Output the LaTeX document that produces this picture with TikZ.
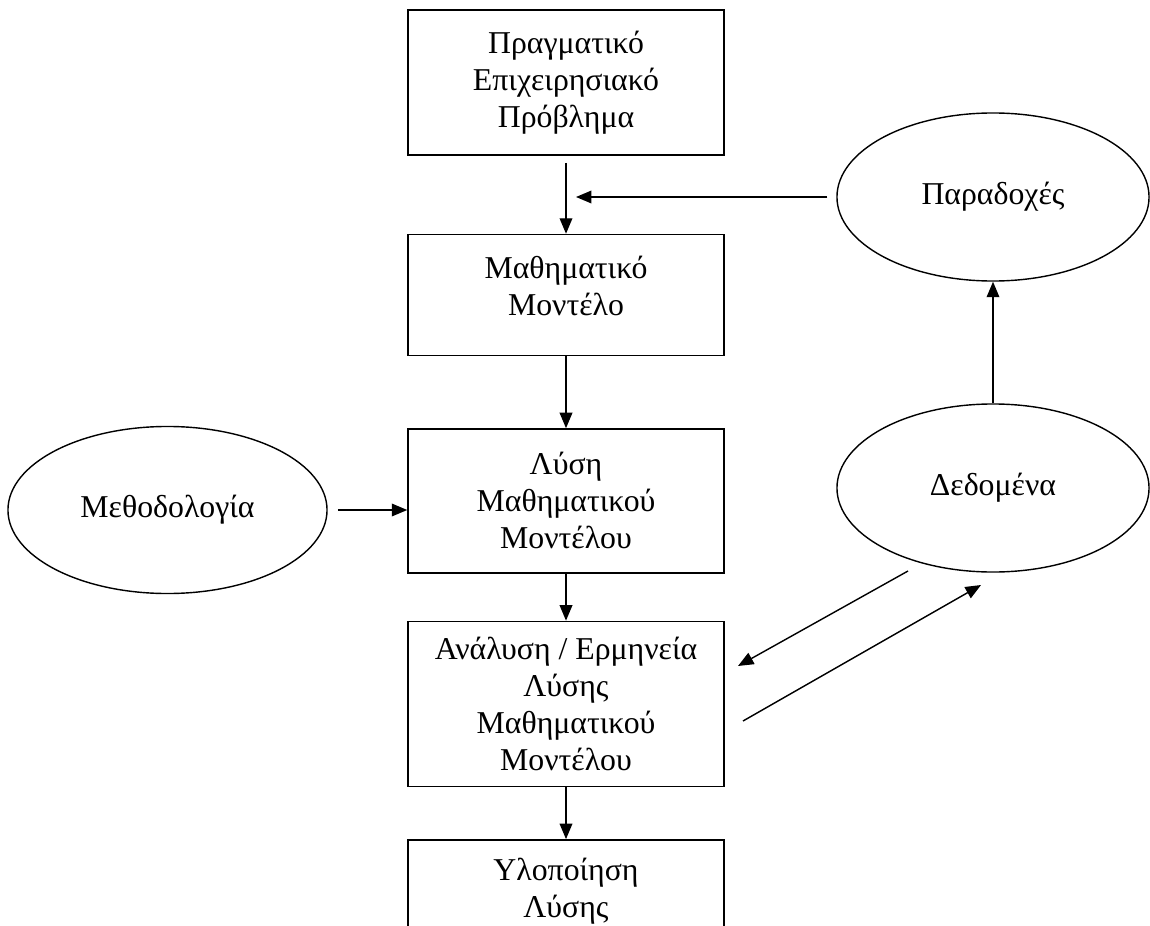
\documentclass[tikz,border=0pt]{standalone}
\usepackage{fontspec}
\setmainfont{Liberation Serif}
\usetikzlibrary{arrows.meta, positioning, shapes.geometric, calc}

\begin{document}
\begin{tikzpicture}[
    x=0.025cm, y=-0.025cm,
    node distance=1.8cm,
    box/.style={
      rectangle, draw, line width=1pt,
      minimum width=7.9cm, inner sep=0pt,
      font=\fontsize{22.6}{26.3}\selectfont, align=center
    },
    oval/.style={
      ellipse, draw, line width=1pt,
      minimum width=7.8cm, minimum height=4.2cm, inner sep=0pt,
      font=\fontsize{22.6}{26.3}\selectfont
    },
    arrow/.style={-{Triangle[length=11pt, width=9pt]}, line width=1pt}
  ]
    \useasboundingbox (0,0) rectangle (1150,926);
    \clip (0,0) rectangle (1150,926);

    % Main chain
    \node[box, minimum height=3.625cm] (problem) at (566,82.5)
      {Πραγματικό\\Επιχειρησιακό\\Πρόβλημα};
    \node[box, minimum height=3.025cm, below=1.95cm of problem]
      (model) {Μαθηματικό\\Μοντέλο\\[-0.45cm]};
    \node[box, minimum height=3.6cm, below=of model]
      (solve) {Λύση\\Μαθηματικού\\Μοντέλου};
    \node[box, minimum height=4.125cm, below=1.175cm of solve]
      (analysis) {Ανάλυση / Ερμηνεία\\Λύσης\\Μαθηματικού\\Μοντέλου};
    \node[box, minimum height=2.55cm, below=1.3cm of analysis]
      (implement) {Υλοποίηση\\Λύσης};

    % Side inputs
    \node[oval] (assumptions) at (993,197) {Παραδοχές};
    \node[oval] (data) at (993,488) {Δεδομένα};
    \node[oval, minimum width=7.975cm, minimum height=4.175cm]
      (method) at (167.5,510) {Μεθοδολογία};

    % Free ends of the data loop
    \coordinate (dataOut) at (908,571);
    \coordinate (analysisIn) at (738,666);
    \coordinate (analysisOut) at (743,721);
    \coordinate (dataIn) at (981,585);

    % Arrows
    \draw[arrow, shorten <=0.18cm] (problem) -- (model);
    \draw[arrow] (model) -- (solve);
    \draw[arrow] (solve) -- (analysis);
    \draw[arrow] (analysis) -- (implement);
    \draw[arrow, shorten <=0.22cm] (assumptions.west)
      -- ($(problem.south |- assumptions.west)+(10,0)$);
    \draw[arrow] (data.north) -- (assumptions.south);
    \draw[arrow, shorten <=0.25cm] (method.east) -- (solve.west |- method.east);
    \draw[arrow] (dataOut) -- (analysisIn);
    \draw[arrow] (analysisOut) -- (dataIn);
  \end{tikzpicture}
\end{document}
